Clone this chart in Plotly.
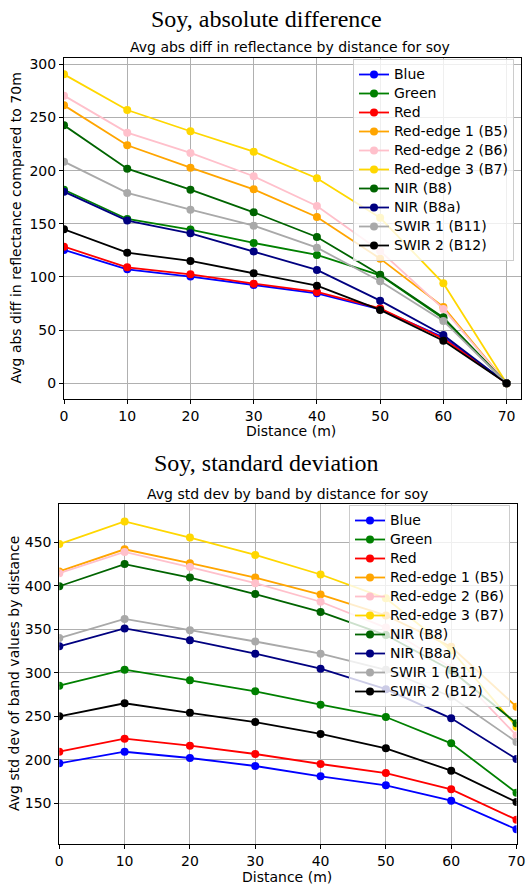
import plotly.graph_objects as go

W, H = 526, 885

distance = [0, 10, 20, 30, 40, 50, 60, 70]

bands = ["Blue", "Green", "Red", "Red-edge 1 (B5)", "Red-edge 2 (B6)", "Red-edge 3 (B7)",
         "NIR (B8)", "NIR (B8a)", "SWIR 1 (B11)", "SWIR 2 (B12)"]
band_colors = ["#0000ff", "#008000", "#ff0000", "#ffa500", "#ffc0cb", "#ffd700",
               "#006400", "#000080", "#a9a9a9", "#000000"]

# Avg abs diff in reflectance compared to 70m
abs_blue = [125.4, 107.2, 100.3, 92.4, 84.6, 69.6, 43.3, 0]
abs_green = [182, 154.5, 144.5, 132, 120.7, 101.5, 61, 0]
abs_red = [128.5, 109, 102.5, 93.7, 85.9, 70.5, 42, 0]
abs_re1 = [261.4, 223.8, 202.8, 182.4, 156.4, 117.2, 71.8, 0]
abs_re2 = [270.5, 235.7, 216.6, 194.7, 166.7, 124.4, 69.9, 0]
abs_re3 = [290.5, 257, 237, 217.8, 192.8, 155.6, 94, 0]
abs_nir8 = [242.6, 201.8, 182.1, 160.8, 137.6, 102.1, 62, 0]
abs_nir8a = [180.2, 153, 141, 124, 106.6, 77.7, 45.4, 0]
abs_swir1 = [208.4, 179, 163.3, 148.2, 127.5, 95.9, 58.6, 0]
abs_swir2 = [144.8, 122.8, 115, 103.4, 91.8, 69, 40, 0]

# Avg std dev of band values by distance
std_blue = [196, 209.3, 202.1, 192.9, 181, 170.7, 153, 120.1]
std_green = [285.2, 303.6, 291.4, 278.7, 263.4, 249.2, 219, 162.2]
std_red = [209.3, 224.3, 216.2, 206.7, 195.2, 184.8, 166.1, 131.2]
std_re1 = [416.5, 442, 426, 409.5, 390, 366, 330, 261]
std_re2 = [414.5, 439, 421.5, 403, 381.7, 352, 306, 228]
std_re3 = [448, 474, 455.5, 435.5, 413, 385.6, 326, 238]
std_nir8 = [399.5, 425, 409.5, 390.5, 370, 343.4, 303, 242]
std_nir8a = [330.5, 351, 337.5, 322, 304.7, 281.2, 247.7, 200.9]
std_swir1 = [340, 362, 349, 336, 322, 303.5, 272.5, 220.5]
std_swir2 = [250, 265, 254, 243.4, 229.7, 213.2, 187.5, 151.5]

abs_series = [abs_blue, abs_green, abs_red, abs_re1, abs_re2, abs_re3,
              abs_nir8, abs_nir8a, abs_swir1, abs_swir2]
std_series = [std_blue, std_green, std_red, std_re1, std_re2, std_re3,
              std_nir8, std_nir8a, std_swir1, std_swir2]

FONT = "DejaVu Sans"
SERIF = "Liberation Serif, Times New Roman, serif"
FS = 14


def legend_label(name):
    return '<span style="font-size:14px">' + name + '</span>'


fig = go.Figure()
for name, col, vals in zip(bands, band_colors, abs_series):
    fig.add_trace(go.Scatter(x=distance, y=vals, name=legend_label(name), mode="lines+markers",
                             line=dict(color=col, width=1.8),
                             marker=dict(color=col, size=8),
                             xaxis="x", yaxis="y", legend="legend"))
for name, col, vals in zip(bands, band_colors, std_series):
    fig.add_trace(go.Scatter(x=distance, y=vals, name=legend_label(name), mode="lines+markers",
                             line=dict(color=col, width=1.8),
                             marker=dict(color=col, size=8),
                             xaxis="x2", yaxis="y2", legend="legend2"))


def px_x(p):
    return p / W


def px_y(p):
    return 1 - p / H


axis_common = dict(showgrid=True, gridcolor="#b0b0b0", gridwidth=1,
                   showline=True, linecolor="#000000", linewidth=1, mirror=True,
                   ticks="outside", ticklen=4, tickcolor="#000000", automargin=False,
                   zeroline=False, tickfont=dict(family=FONT, size=FS, color="#000000"))

legend_common = dict(xanchor="right", yanchor="top",
                     bgcolor="rgba(255,255,255,0.8)", bordercolor="#cccccc", borderwidth=1,
                     font=dict(family=FONT, size=12, color="#000000"),
                     tracegroupgap=0, itemwidth=30)

fig.update_layout(
    width=W, height=H, autosize=False,
    margin=dict(l=0, r=0, t=0, b=0, pad=0, autoexpand=False),
    paper_bgcolor="white", plot_bgcolor="white",
    font=dict(family=FONT, size=FS, color="#000000"),
    xaxis=dict(domain=[px_x(64), px_x(520.5)], range=[0, 72.2],
               tickvals=[0, 10, 20, 30, 40, 50, 60, 70], anchor="y", **axis_common),
    yaxis=dict(domain=[px_y(399), px_y(58)], range=[-14.8, 305.9],
               tickvals=[0, 50, 100, 150, 200, 250, 300], anchor="x", **axis_common),
    xaxis2=dict(domain=[px_x(59.3), px_x(516.5)], range=[0, 70],
                tickvals=[0, 10, 20, 30, 40, 50, 60, 70], anchor="y2", **axis_common),
    yaxis2=dict(domain=[px_y(844.3), px_y(504.3)], range=[102.9, 493.7],
                tickvals=[150, 200, 250, 300, 350, 400, 450], anchor="x2", **axis_common),
    legend=dict(x=px_x(514), y=px_y(59), **legend_common),
    legend2=dict(x=px_x(510), y=px_y(505), **legend_common),
    showlegend=True,
)

annotations = [
    dict(text="Soy, absolute difference", x=266, y=19, font=dict(family=SERIF, size=24)),
    dict(text="Avg abs diff in reflectance by distance for soy", x=290, y=47,
         font=dict(family=FONT, size=FS)),
    dict(text="Distance (m)", x=291, y=431, font=dict(family=FONT, size=FS)),
    dict(text="Avg abs diff in reflectance compared to 70m", x=16, y=228.5, textangle=-90,
         font=dict(family=FONT, size=FS)),
    dict(text="Soy, standard deviation", x=266, y=463, font=dict(family=SERIF, size=24)),
    dict(text="Avg std dev by band by distance for soy", x=287, y=494,
         font=dict(family=FONT, size=FS)),
    dict(text="Distance (m)", x=287, y=877, font=dict(family=FONT, size=FS)),
    dict(text="Avg std dev of band values by distance", x=14, y=674, textangle=-90,
         font=dict(family=FONT, size=FS)),
]
for a in annotations:
    fig.add_annotation(text=a["text"], x=px_x(a["x"]), y=px_y(a["y"]), xref="paper", yref="paper",
                       xanchor="center", yanchor="middle", showarrow=False,
                       textangle=a.get("textangle", 0), font=dict(color="#000000", **a["font"]))

fig.write_html("out.html")
